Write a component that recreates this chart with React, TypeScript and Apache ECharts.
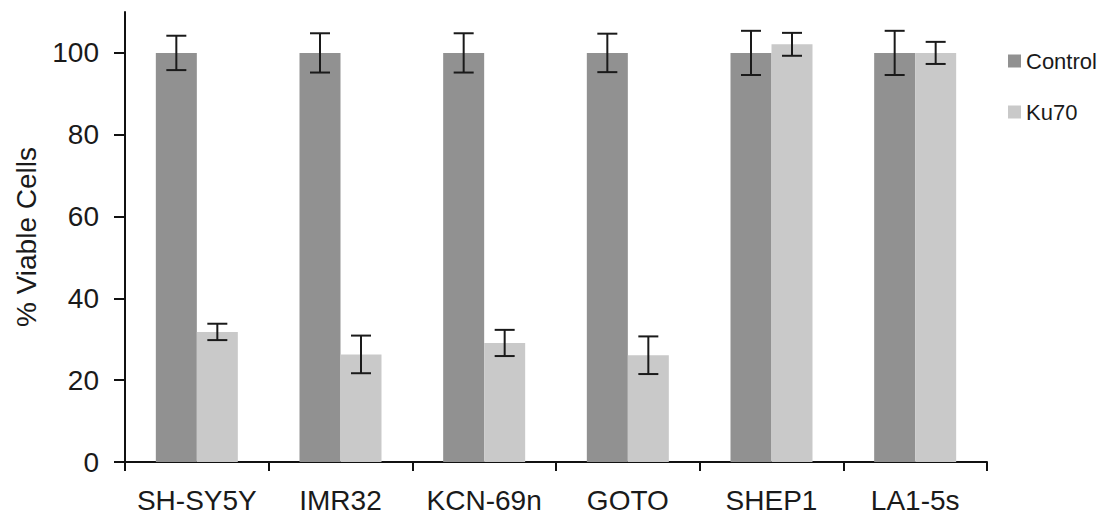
import React, { useEffect, useRef } from "react";
import * as echarts from "echarts";

const categories = ["SH-SY5Y", "IMR32", "KCN-69n", "GOTO", "SHEP1", "LA1-5s"];
const controlValues = [100, 100, 100, 100, 100, 100];
const controlErrors = [4.2, 4.8, 4.8, 4.7, 5.4, 5.4];
const ku70Values = [31.8, 26.3, 29.1, 26.1, 102.1, 100];
const ku70Errors = [2.0, 4.6, 3.2, 4.6, 2.8, 2.7];
const yTicks = [0, 20, 40, 60, 80, 100];

const FONT = "'Liberation Sans', Arial, sans-serif";
const BAR_W = 41;

function errorSeries(name: string, values: number[], errs: number[], side: number) {
  const data = values.map((v, i) => [i, v - errs[i], v + errs[i]]);
  return {
    type: "custom",
    name: name + "-err",
    z: 10,
    silent: true,
    data,
    encode: { x: 0, y: [1, 2] },
    renderItem: (params: any, api: any) => {
      const idx = api.value(0);
      const lo = api.coord([idx, api.value(1)]);
      const hi = api.coord([idx, api.value(2)]);
      const x = lo[0] + side * (BAR_W / 2);
      const cap = 10;
      const style = { stroke: "#1a1a1a", lineWidth: 2 };
      return {
        type: "group",
        children: [
          { type: "line", shape: { x1: x, y1: lo[1], x2: x, y2: hi[1] }, style },
          { type: "line", shape: { x1: x - cap, y1: lo[1], x2: x + cap, y2: lo[1] }, style },
          { type: "line", shape: { x1: x - cap, y1: hi[1], x2: x + cap, y2: hi[1] }, style },
        ],
      };
    },
  };
}

export default function App() {
  const ref = useRef<HTMLDivElement>(null);
  useEffect(() => {
    if (!ref.current) return;
    const chart = echarts.init(ref.current, null, { renderer: "svg" });
    chart.setOption({
      animation: false,
      backgroundColor: "#ffffff",
      textStyle: { fontFamily: FONT },
      grid: { left: 125, right: 116, top: 12, bottom: 57, containLabel: false },
      legend: {
        orient: "vertical",
        left: 1003,
        top: 45,
        itemGap: 29,
        itemWidth: 13,
        itemHeight: 13,
        icon: "rect",
        data: ["Control", "Ku70"],
        textStyle: { fontSize: 22, color: "#1a1a1a", fontFamily: FONT, lineHeight: 22, padding: [0, 0, 0, 0] },
      },
      xAxis: {
        type: "category",
        data: categories,
        axisLine: { lineStyle: { color: "#111", width: 2 } },
        axisTick: { show: true, length: 9, lineStyle: { color: "#111", width: 2 } },
        axisLabel: { fontSize: 28, color: "#1a1a1a", margin: 24, fontFamily: FONT, interval: 0 },
        splitLine: { show: false },
      },
      yAxis: {
        type: "value",
        min: 0,
        max: 110,
        interval: 20,
        name: "% Viable Cells",
        nameLocation: "middle",
        nameGap: 85,
        nameRotate: 90,
        nameTextStyle: { fontSize: 28, color: "#1a1a1a", fontFamily: FONT },
        axisLine: { show: true, lineStyle: { color: "#111", width: 2 } },
        axisTick: { show: true, length: 11, lineStyle: { color: "#111", width: 2 }, customValues: yTicks },
        axisLabel: { fontSize: 28, color: "#1a1a1a", margin: 26, fontFamily: FONT, customValues: yTicks },
        splitLine: { show: false },
      },
      series: [
        {
          name: "Control",
          type: "bar",
          data: controlValues,
          barWidth: BAR_W,
          barGap: "0%",
          itemStyle: { color: "#919191" },
        },
        {
          name: "Ku70",
          type: "bar",
          data: ku70Values,
          barWidth: BAR_W,
          barGap: "0%",
          itemStyle: { color: "#c9c9c9" },
        },
        errorSeries("Control", controlValues, controlErrors, -1),
        errorSeries("Ku70", ku70Values, ku70Errors, 1),
      ],
    });
    return () => chart.dispose();
  }, []);
  return (
    <div
      ref={ref}
      style={{ position: "absolute", left: 0, top: 0, width: 1103, height: 519 }}
    />
  );
}
